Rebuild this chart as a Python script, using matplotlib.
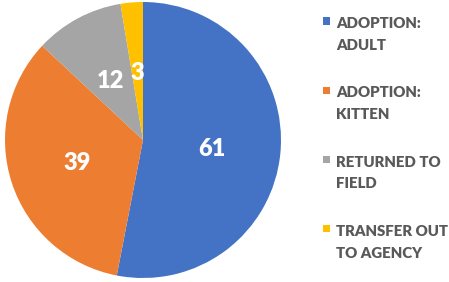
import matplotlib
matplotlib.use("Agg")
import matplotlib.pyplot as plt
from matplotlib.patches import Rectangle
from matplotlib.legend_handler import HandlerBase

categories = ["ADOPTION:\nADULT", "ADOPTION:\nKITTEN", "RETURNED TO\nFIELD", "TRANSFER OUT\nTO AGENCY"]
values = [61, 39, 12, 3]
colors = ["#4472C4", "#ED7D31", "#A5A5A5", "#FFC000"]

W, H = 449, 282
fig = plt.figure(figsize=(W / 100, H / 100), dpi=100)
fig.patch.set_facecolor("white")

cx, cy, r = 143, 140, 138
ax = fig.add_axes([(cx - r) / W, (H - cy - r) / H, 2 * r / W, 2 * r / H])

wedges, texts, autotexts = ax.pie(
    values, colors=colors, startangle=90, counterclock=False,
    autopct=lambda p: f"{round(p * sum(values) / 100):d}", pctdistance=0.5,
    textprops=dict(color="white", fontsize=17, fontweight="heavy", family=["Lato", "DejaVu Sans"]),
    wedgeprops=dict(linewidth=0),
)
for t in autotexts:
    t.set_va("center_baseline")
ax.set_xlim(-1, 1)
ax.set_ylim(-1, 1)
ax.set_aspect("auto")
ax.axis("off")

SHIFT = 10.3  # points


class SquareHandler(HandlerBase):
    def create_artists(self, legend, orig_handle, xdescent, ydescent, width, height, fontsize, trans):
        s = 5.2
        rect = Rectangle((-xdescent, -ydescent + SHIFT), s, s,
                         facecolor=orig_handle.get_facecolor(), edgecolor="none", transform=trans)
        return [rect]


leg = fig.legend(
    wedges, categories, loc="upper left", bbox_to_anchor=(323 / W, 1 - 17 / H),
    frameon=False, fontsize=10.8, handlelength=0.5, handleheight=0.5, handletextpad=0.35,
    labelspacing=2.3, borderpad=0, borderaxespad=0,
    handler_map={w: SquareHandler() for w in wedges},
    prop=dict(family=["Lato", "DejaVu Sans"], weight="heavy", size=10.8),
)
for t in leg.get_texts():
    t.set_color("#595959")
    t.set_linespacing(1.8)

fig.savefig("out.png", dpi=100, facecolor="white")
